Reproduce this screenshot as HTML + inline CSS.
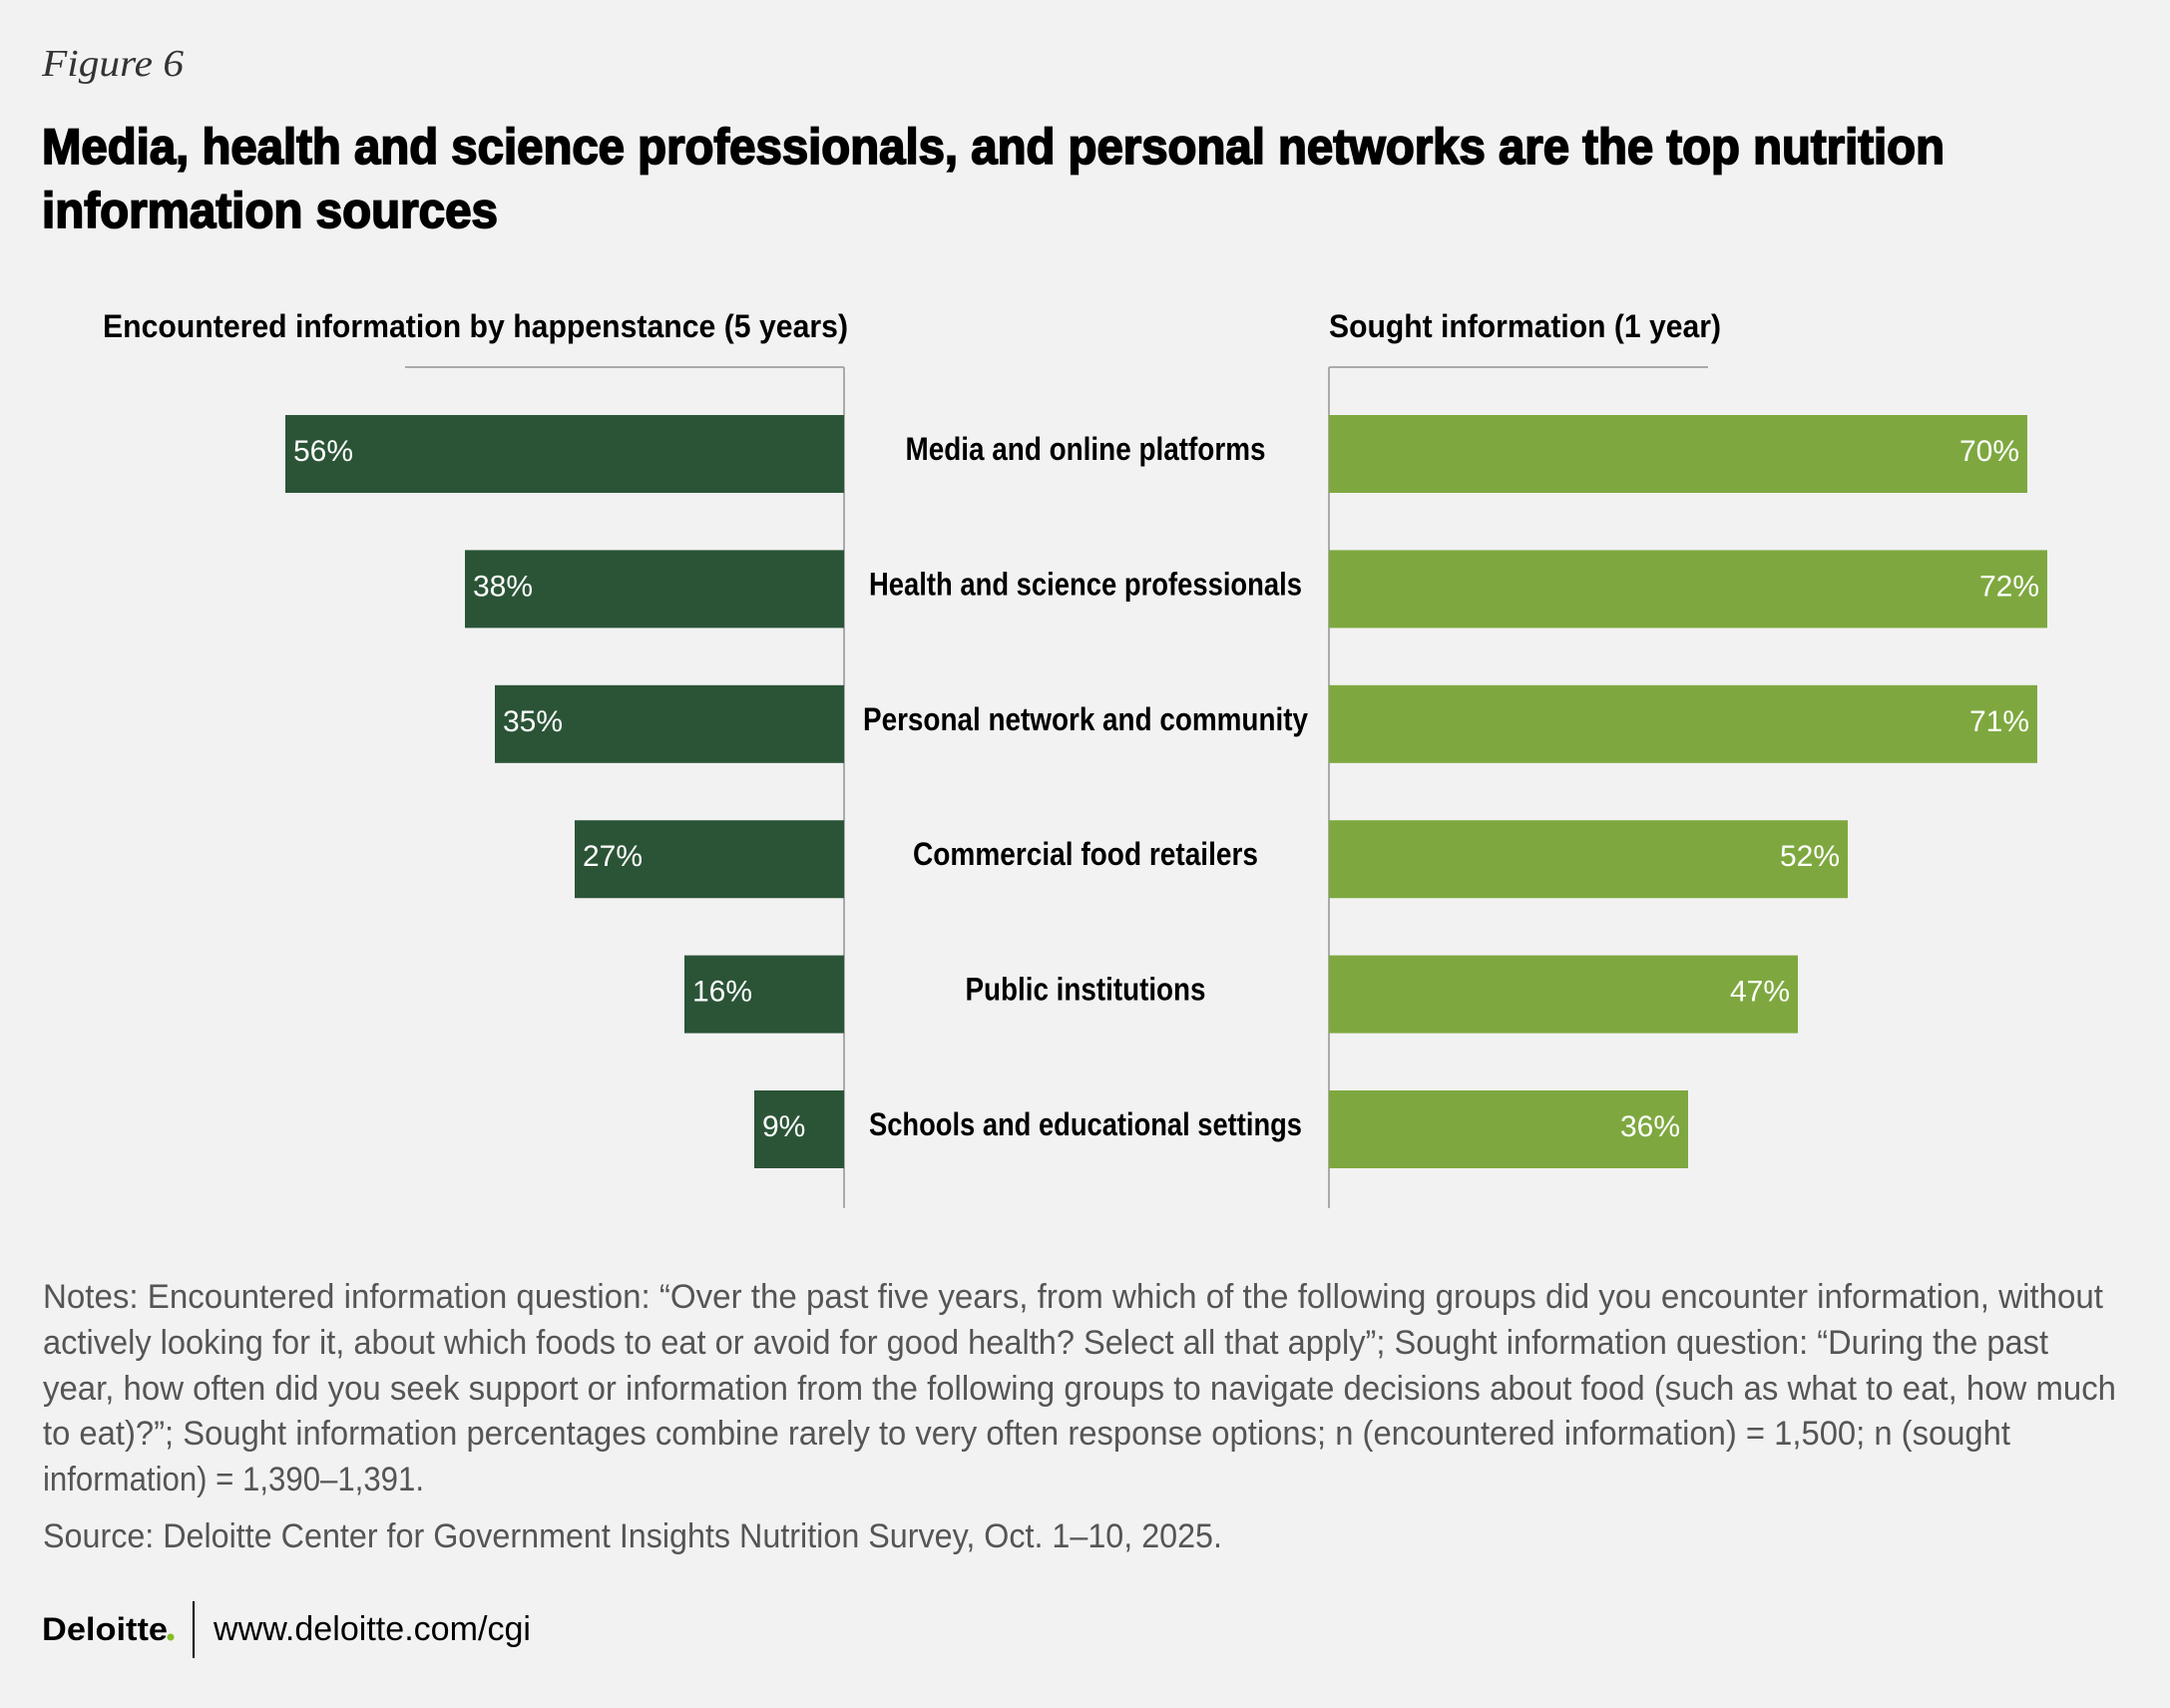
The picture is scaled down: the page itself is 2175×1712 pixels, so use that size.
<!DOCTYPE html>
<html><head><meta charset="utf-8"><style>
html,body{margin:0;padding:0;background:#f2f2f2;}
svg{display:block;font-family:"Liberation Sans",sans-serif;}
</style></head><body>
<svg id="chart" width="2175" height="1712" viewBox="0 0 2175 1712" xmlns="http://www.w3.org/2000/svg">
<rect width="2175" height="1712" fill="#f2f2f2"/>
<text x="42" y="76" font-family="Liberation Serif" font-style="italic" font-size="38" fill="#333" textLength="142" lengthAdjust="spacingAndGlyphs">Figure 6</text>
<text x="42" y="164" font-size="50" font-weight="bold" fill="#000" stroke="#000" stroke-width="1.8" textLength="1907" lengthAdjust="spacingAndGlyphs">Media, health and science professionals, and personal networks are the top nutrition</text>
<text x="42" y="228" font-size="50" font-weight="bold" fill="#000" stroke="#000" stroke-width="1.8" textLength="457" lengthAdjust="spacingAndGlyphs">information sources</text>
<text x="103" y="338" font-size="32" font-weight="bold" fill="#000" textLength="747" lengthAdjust="spacingAndGlyphs">Encountered information by happenstance (5 years)</text>
<text x="1332" y="338" font-size="32" font-weight="bold" fill="#000" textLength="393" lengthAdjust="spacingAndGlyphs">Sought information (1 year)</text>
<g id="axes" stroke="#aaaaaa" stroke-width="2">
<line x1="406" y1="368" x2="846" y2="368"/>
<line x1="846" y1="368" x2="846" y2="1211"/>
<line x1="1332" y1="368" x2="1712" y2="368"/>
<line x1="1332" y1="368" x2="1332" y2="1211"/>
</g>
<g id="bars"></g>
<g fill="#555" font-size="34">
<text x="43" y="1311" textLength="2065" lengthAdjust="spacingAndGlyphs">Notes: Encountered information question: “Over the past five years, from which of the following groups did you encounter information, without</text>
<text x="43" y="1357" textLength="2010" lengthAdjust="spacingAndGlyphs">actively looking for it, about which foods to eat or avoid for good health? Select all that apply”; Sought information question: “During the past</text>
<text x="43" y="1403" textLength="2078" lengthAdjust="spacingAndGlyphs">year, how often did you seek support or information from the following groups to navigate decisions about food (such as what to eat, how much</text>
<text x="43" y="1448" textLength="1972" lengthAdjust="spacingAndGlyphs">to eat)?”; Sought information percentages combine rarely to very often response options; n (encountered information) = 1,500; n (sought</text>
<text x="43" y="1494" textLength="382" lengthAdjust="spacingAndGlyphs">information) = 1,390–1,391.</text>
</g>
<text x="43" y="1551" fill="#555" font-size="34" textLength="1182" lengthAdjust="spacingAndGlyphs">Source: Deloitte Center for Government Insights Nutrition Survey, Oct. 1–10, 2025.</text>
<text x="42" y="1644" font-size="32" font-weight="bold" fill="#000" textLength="126" lengthAdjust="spacingAndGlyphs">Deloitte</text>
<circle cx="171" cy="1641" r="3.5" fill="#86bc25"/>
<line x1="194" y1="1605" x2="194" y2="1662" stroke="#000" stroke-width="2"/>
<text x="214" y="1644" font-size="34" fill="#000" textLength="318" lengthAdjust="spacingAndGlyphs">www.deloitte.com/cgi</text>
</svg>
<script>
const categories = ["Media and online platforms","Health and science professionals","Personal network and community","Commercial food retailers","Public institutions","Schools and educational settings"];
const encountered = [56,38,35,27,16,9];
const sought = [70,72,71,52,47,36];
const labelWidths = [361,434,446,346,241,434];
const NS = "http://www.w3.org/2000/svg";
const g = document.getElementById('bars');
const pxPer = 10.0;
const leftX = v => 846 - v * pxPer;
const rightX = v => 1332 + v * pxPer;
const rowY = i => 455 + i * 135.4;
const barH = 78;
function mk(tag, attrs){const e=document.createElementNS(NS,tag);for(const k in attrs)e.setAttribute(k,attrs[k]);g.appendChild(e);return e;}
categories.forEach((c,i)=>{
  const cy = rowY(i);
  const l = mk('rect',{x:leftX(encountered[i]),y:cy-barH/2,width:846-leftX(encountered[i]),height:barH,fill:'#2b5437'});
  
  
  const lt = mk('text',{x:leftX(encountered[i])+8,y:cy+7,'font-size':30,fill:'#fff'});
  lt.textContent = encountered[i]+'%';
  
  
  const r = mk('rect',{x:1332,y:cy-barH/2,width:rightX(sought[i])-1332,height:barH,fill:'#7ea83f'});
  
  
  const rt = mk('text',{x:rightX(sought[i])-8,y:cy+7,'font-size':30,fill:'#fff','text-anchor':'end'});
  rt.textContent = sought[i]+'%';
  
  
  const ct = mk('text',{x:1088,y:cy+6,'font-size':32,'font-weight':'bold',fill:'#000','text-anchor':'middle',textLength:labelWidths[i],lengthAdjust:'spacingAndGlyphs'});
  ct.textContent = c;
  
  
});
</script>
</body></html>
